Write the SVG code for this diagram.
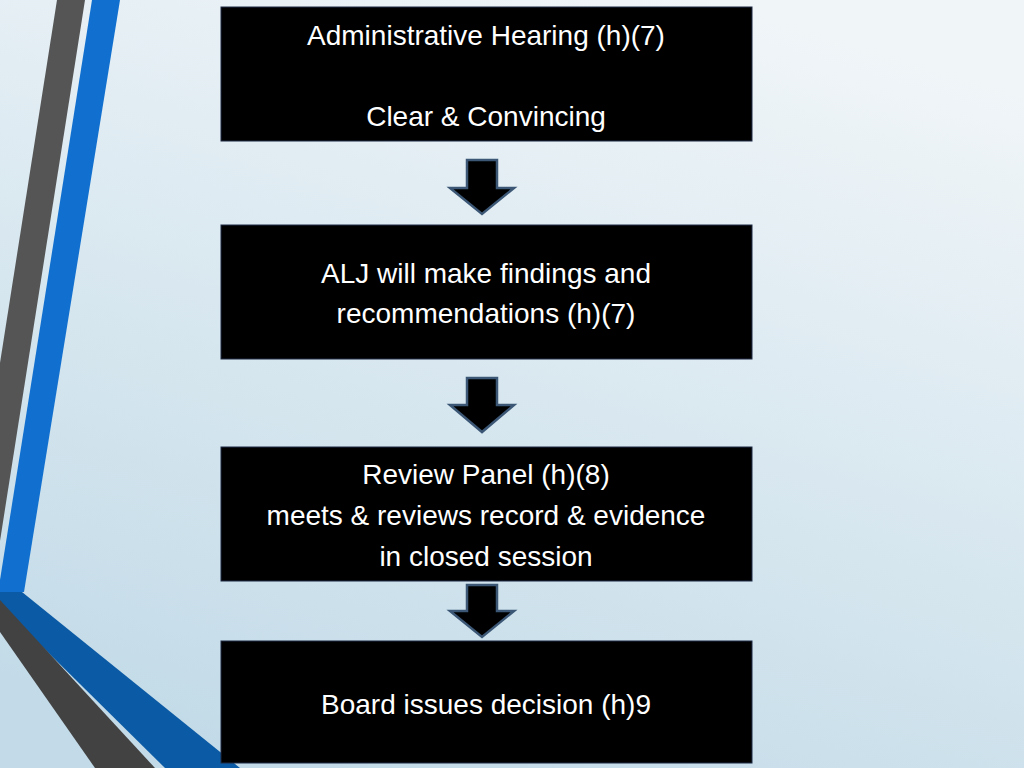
<svg xmlns="http://www.w3.org/2000/svg" width="1024" height="768" viewBox="0 0 1024 768">
<defs>
<linearGradient id="bg" x1="0.7" y1="0" x2="0.3" y2="1">
<stop offset="0" stop-color="#f0f5f8"/><stop offset="0.5" stop-color="#d9e8f0"/><stop offset="1" stop-color="#c3dbe8"/>
</linearGradient>
<style>
.box{fill:#000;stroke:#1f2a44;stroke-width:1}
.t{font-family:"Liberation Sans",Arial,sans-serif;font-size:28px;fill:#fff;text-anchor:middle}
.arr{fill:#000;stroke:#3b5775;stroke-width:2.5;stroke-linejoin:miter}
</style>
</defs>
<rect width="1024" height="768" fill="url(#bg)"/>
<polygon points="57,0 85,0 0,541 0,363" fill="#555555"/>
<polygon points="92,0 120,0 24,592 0,592 0,580" fill="#1170cf"/>
<polygon points="0,592 22,592 240,768 165,768 0,605" fill="#0b5aa5"/>
<polygon points="0,600 155,768 95,768 0,632" fill="#424242"/>
<g id="connectors">
<polygon class="arr" points="467,160 497,160 497,188 514,188 482,214 450,188 467,188"/>
<polygon class="arr" points="467,378 497,378 497,405 514,405 482,432 450,405 467,405"/>
<polygon class="arr" points="467,585 497,585 497,611 514,611 482,637 450,611 467,611"/>
</g>
<g id="n1"><rect class="box" x="221" y="7" width="531" height="134"/>
<text class="t" x="486" y="45">Administrative Hearing (h)(7)</text>
<text class="t" x="486" y="126">Clear &amp; Convincing</text></g>
<g id="n2"><rect class="box" x="221" y="225" width="531" height="134"/>
<text class="t" x="486" y="283">ALJ will make findings and</text>
<text class="t" x="486" y="323">recommendations  (h)(7)</text></g>
<g id="n3"><rect class="box" x="221" y="447" width="531" height="134"/>
<text class="t" x="486" y="484">Review Panel  (h)(8)</text>
<text class="t" x="486" y="525">meets &amp; reviews record &amp; evidence</text>
<text class="t" x="486" y="566">in closed session</text></g>
<g id="n4"><rect class="box" x="221" y="641" width="531" height="122"/>
<text class="t" x="486" y="714">Board issues decision (h)9</text></g>
</svg>
